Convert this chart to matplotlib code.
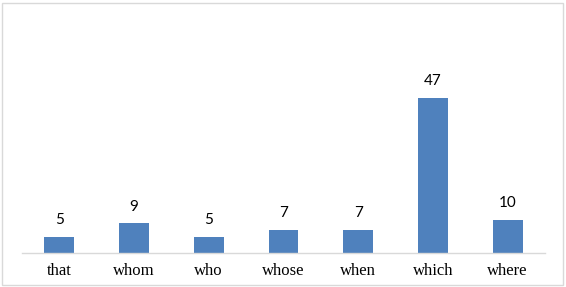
import matplotlib
matplotlib.use("Agg")
import matplotlib.pyplot as plt
from matplotlib.patches import Rectangle

categories = ["that", "whom", "who", "whose", "when", "which", "where"]
values = [5, 9, 5, 7, 7, 47, 10]

W, H = 566, 287
fig = plt.figure(figsize=(W/100, H/100), dpi=100)
ax = fig.add_axes([22/W, (H-253)/H, (545-22)/W, (253-20)/H])

x = list(range(len(categories)))
ax.bar(x, values, width=0.4, color="#4F81BD", zorder=2)
ax.set_xlim(-0.5, len(categories)-0.5)
ax.set_ylim(0, (253-20)/3.3)

for xi, v in zip(x, values):
    ax.annotate(str(v), (xi, v), xytext=(0, 7), textcoords="offset points",
                ha="center", va="bottom", fontsize=11, family="Lato", color="black")

ax.set_xticks(x)
ax.set_xticklabels(categories, family="Liberation Serif", fontsize=12)
ax.tick_params(axis="x", length=0, pad=7.5)
ax.set_yticks([])
for s in ["top", "right", "left"]:
    ax.spines[s].set_visible(False)
ax.spines["bottom"].set_color("#d9d9d9")
ax.spines["bottom"].set_linewidth(1)

fig.patches.append(Rectangle((1.5/W, 2.5/H), (W-5)/W, (H-5)/H, transform=fig.transFigure,
                             fill=False, edgecolor="#d9d9d9", linewidth=1))

fig.savefig("out.png", dpi=100)
